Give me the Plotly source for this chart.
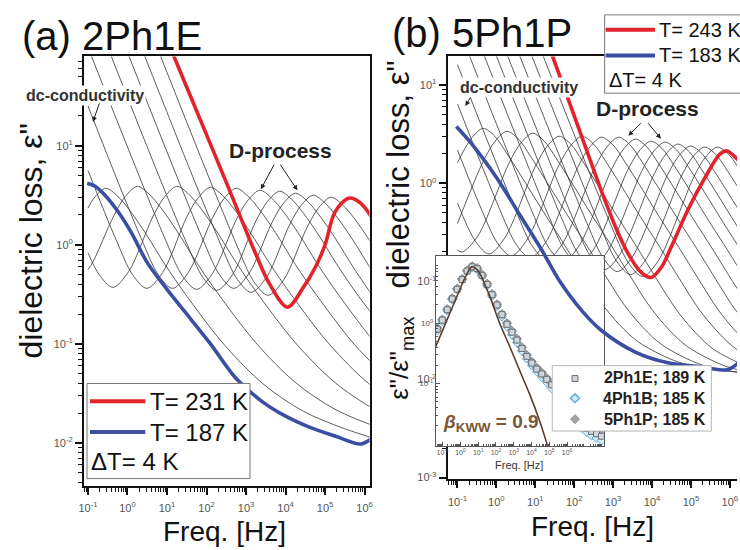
import plotly.graph_objects as go

W, H = 740, 550
FONT = "Liberation Sans, Arial, Helvetica, sans-serif"


def px(x):
    return x / W


def py(y):
    return 1 - y / H


# ---------------------------------------------------------------------------
# DATA  (pairs: log10 frequency [Hz], log10 eps'')
# ---------------------------------------------------------------------------
# panel (a) 2Ph1E, T = 187 ... 231 K, dT = 4 K
A_BLUE_187K = [(-1.02, 0.62), (-0.82, 0.59), (-0.57, 0.5), (-0.25, 0.34), (0.1, 0.12),
               (0.5, -0.18), (1.0, -0.45), (1.6, -0.75), (2.1, -1.0), (2.75, -1.35),
               (3.4, -1.58), (4.0, -1.73), (4.6, -1.84), (5.25, -1.93), (5.9, -2.01), (6.2, -1.95)]
A_RED_231K = [(0.8, 2.26), (1.5, 1.59), (2.5, 0.63), (3.2, -0.05), (3.6, -0.4), (4.05, -0.63),
              (4.45, -0.43), (4.75, -0.23), (5.0, 0.0), (5.25, 0.33), (5.6, 0.47), (5.9, 0.42), (6.3, 0.2)]
A_191K = [(-1.0, 0.37), (-0.85, 0.47), (-0.55, 0.57), (-0.25, 0.49), (0.05, 0.35), (0.45, 0.12),
          (0.95, -0.2), (1.45, -0.49), (2.45, -1.01), (3.45, -1.41), (4.45, -1.68), (5.45, -1.85), (6.45, -1.98)]
A_195K = [(-1.0, -0.25), (-0.87, -0.17), (-0.35, 0.29), (-0.05, 0.49), (0.25, 0.59), (0.55, 0.51),
          (0.85, 0.37), (1.25, 0.14), (1.75, -0.18), (2.25, -0.47), (3.25, -0.99), (4.25, -1.39),
          (5.25, -1.66), (6.25, -1.83), (7.25, -1.96)]
A_199K = [(-1.0, -0.08), (-0.72, -0.3), (-0.37, -0.43), (0.03, -0.27), (0.65, 0.29), (0.95, 0.49),
          (1.25, 0.59), (1.55, 0.51), (1.85, 0.37), (2.25, 0.14), (2.75, -0.18), (3.25, -0.47),
          (4.25, -0.99), (5.25, -1.39), (6.25, -1.66), (7.25, -1.83)]
A_203K = [(-1.0, 0.75), (-0.31, 0.07), (0.14, -0.31), (0.49, -0.44), (0.89, -0.28), (1.5, 0.28),
          (1.8, 0.48), (2.1, 0.58), (2.4, 0.5), (2.7, 0.36), (3.1, 0.13), (3.6, -0.19), (4.1, -0.48),
          (5.1, -1.0), (6.1, -1.4), (7.1, -1.67)]
A_207K = [(-1.0, 1.4), (0.34, 0.07), (0.79, -0.31), (1.14, -0.44), (1.54, -0.28), (2.15, 0.27),
          (2.45, 0.47), (2.75, 0.57), (3.05, 0.49), (3.35, 0.35), (3.75, 0.12), (4.25, -0.2),
          (4.75, -0.49), (5.75, -1.01), (6.75, -1.41)]
A_211K = [(-1.75, 2.75), (0.95, 0.06), (1.4, -0.32), (1.75, -0.45), (2.15, -0.29), (2.75, 0.25),
          (3.05, 0.45), (3.35, 0.55), (3.65, 0.47), (3.95, 0.33), (4.35, 0.1), (4.85, -0.22),
          (5.35, -0.51), (6.35, -1.03), (7.35, -1.43)]
A_215K = [(-1.24, 2.74), (1.46, 0.05), (1.91, -0.33), (2.26, -0.46), (2.66, -0.3), (3.25, 0.24),
          (3.55, 0.44), (3.85, 0.54), (4.15, 0.46), (4.45, 0.32), (4.85, 0.09), (5.35, -0.23),
          (5.85, -0.52), (6.85, -1.04)]
A_219K = [(-0.81, 2.76), (1.89, 0.07), (2.34, -0.31), (2.69, -0.44), (3.09, -0.28), (3.65, 0.22),
          (3.95, 0.42), (4.25, 0.52), (4.55, 0.44), (4.85, 0.3), (5.25, 0.07), (5.75, -0.25),
          (6.25, -0.54), (7.25, -1.06)]
A_223K = [(-0.37, 2.72), (2.33, 0.03), (2.78, -0.35), (3.13, -0.48), (3.53, -0.32), (4.1, 0.2),
          (4.4, 0.4), (4.7, 0.5), (5.0, 0.42), (5.3, 0.28), (5.7, 0.05), (6.2, -0.27), (6.7, -0.56)]
A_227K = [(0.06, 2.69), (2.76, 0.0), (3.21, -0.38), (3.56, -0.51), (3.96, -0.35), (4.55, 0.18),
          (4.85, 0.38), (5.15, 0.48), (5.45, 0.4), (5.75, 0.26), (6.15, 0.03), (6.65, -0.29)]
A_BLACK = [A_191K, A_195K, A_199K, A_203K, A_207K, A_211K, A_215K, A_219K, A_223K, A_227K]

# panel (b) 5Ph1P, T = 183 ... 243 K, dT = 4 K
B_BLUE_183K = [(-1.03, 0.58), (-0.67, 0.42), (0.02, 0.05), (0.6, -0.32), (1.18, -0.69), (1.6, -0.98),
               (2.2, -1.3), (2.7, -1.5), (3.57, -1.72), (4.41, -1.83), (5.24, -1.87), (5.93, -1.9), (6.25, -1.82)]
B_RED_243K = [(1.0, 1.78), (1.44, 1.3), (1.87, 0.83), (2.3, 0.36), (2.71, -0.09), (3.1, -0.48),
              (3.39, -0.72), (3.7, -0.9), (3.97, -0.96), (4.25, -0.85), (4.48, -0.66), (4.91, -0.28),
              (5.35, 0.05), (5.75, 0.3), (5.93, 0.33), (6.18, 0.25), (6.4, 0.15)]
B_187K = [(-1.0, 0.21), (-0.64, 0.46), (-0.34, 0.56), (-0.04, 0.48), (0.26, 0.31), (0.66, 0.06),
          (1.16, -0.26), (1.66, -0.57), (2.16, -0.89), (2.66, -1.2), (3.16, -1.44), (3.66, -1.62),
          (4.66, -1.82), (5.66, -1.9), (6.66, -1.94)]
B_191K = [(-1.0, -0.41), (-0.33, 0.23), (-0.03, 0.43), (0.27, 0.53), (0.57, 0.45), (0.87, 0.28),
          (1.27, 0.03), (1.77, -0.29), (2.27, -0.6), (2.77, -0.92), (3.27, -1.23), (3.77, -1.47),
          (4.27, -1.65), (5.27, -1.85), (6.27, -1.93), (7.27, -1.97)]
B_195K = [(-1.0, -0.68), (-0.88, -0.7), (-0.48, -0.54), (0.33, 0.21), (0.63, 0.41), (0.93, 0.51),
          (1.23, 0.43), (1.53, 0.26), (1.93, 0.01), (2.43, -0.31), (2.93, -0.62), (3.43, -0.94),
          (3.93, -1.25), (4.43, -1.49), (4.93, -1.67), (5.93, -1.87), (6.93, -1.95)]
B_199K = [(-1.0, -0.2), (-0.54, -0.59), (-0.19, -0.72), (0.21, -0.56), (1.01, 0.18), (1.31, 0.38),
          (1.61, 0.48), (1.91, 0.4), (2.21, 0.23), (2.61, -0.02), (3.11, -0.34), (3.61, -0.65),
          (4.11, -0.97), (4.61, -1.28), (5.11, -1.52), (5.61, -1.7), (6.61, -1.9)]
B_203K = [(-1.0, 0.34), (-0.42, -0.23), (0.03, -0.61), (0.38, -0.74), (0.78, -0.58), (1.6, 0.18),
          (1.9, 0.38), (2.2, 0.48), (2.5, 0.4), (2.8, 0.23), (3.2, -0.02), (3.7, -0.34), (4.2, -0.65),
          (4.7, -0.97), (5.2, -1.28), (5.7, -1.52), (6.2, -1.7), (7.2, -1.9)]
B_207K = [(-1.0, 0.81), (0.07, -0.25), (0.52, -0.63), (0.87, -0.76), (1.27, -0.6), (2.1, 0.17),
          (2.4, 0.37), (2.7, 0.47), (3.0, 0.39), (3.3, 0.22), (3.7, -0.03), (4.2, -0.35), (4.7, -0.66),
          (5.2, -0.98), (5.7, -1.29), (6.2, -1.53), (6.7, -1.71)]
B_211K = [(-1.0, 1.21), (0.49, -0.27), (0.94, -0.65), (1.29, -0.78), (1.69, -0.62), (2.54, 0.17),
          (2.84, 0.37), (3.14, 0.47), (3.44, 0.39), (3.74, 0.22), (4.14, -0.03), (4.64, -0.35),
          (5.14, -0.66), (5.64, -0.98), (6.14, -1.29), (6.64, -1.53)]
B_215K = [(-1.78, 2.4), (0.92, -0.29), (1.37, -0.67), (1.72, -0.8), (2.12, -0.64), (2.97, 0.15),
          (3.27, 0.35), (3.57, 0.45), (3.87, 0.37), (4.17, 0.2), (4.57, -0.05), (5.07, -0.37),
          (5.57, -0.68), (6.07, -1.0), (6.57, -1.31)]
B_219K = [(-1.38, 2.38), (1.32, -0.31), (1.77, -0.69), (2.12, -0.82), (2.52, -0.66), (3.37, 0.13),
          (3.67, 0.33), (3.97, 0.43), (4.27, 0.35), (4.57, 0.18), (4.97, -0.07), (5.47, -0.39),
          (5.97, -0.7), (6.47, -1.02)]
B_223K = [(-1.04, 2.35), (1.66, -0.34), (2.11, -0.72), (2.46, -0.85), (2.86, -0.69), (3.73, 0.12),
          (4.03, 0.32), (4.33, 0.42), (4.63, 0.34), (4.93, 0.17), (5.33, -0.08), (5.83, -0.4), (6.33, -0.71)]
B_227K = [(-0.72, 2.32), (1.98, -0.37), (2.43, -0.75), (2.78, -0.88), (3.18, -0.72), (4.06, 0.1),
          (4.36, 0.3), (4.66, 0.4), (4.96, 0.32), (5.26, 0.15), (5.66, -0.1), (6.16, -0.42), (6.66, -0.73)]
B_231K = [(-0.39, 2.3), (2.31, -0.39), (2.76, -0.77), (3.11, -0.9), (3.51, -0.74), (4.39, 0.08),
          (4.69, 0.28), (4.99, 0.38), (5.29, 0.3), (5.59, 0.13), (5.99, -0.12), (6.49, -0.44)]
B_235K = [(-0.05, 2.27), (2.65, -0.42), (3.1, -0.8), (3.45, -0.93), (3.85, -0.77), (4.75, 0.07),
          (5.05, 0.27), (5.35, 0.37), (5.65, 0.29), (5.95, 0.12), (6.35, -0.13)]
B_239K = [(0.26, 2.25), (2.96, -0.44), (3.41, -0.82), (3.76, -0.95), (4.16, -0.79), (5.08, 0.07),
          (5.38, 0.27), (5.68, 0.37), (5.98, 0.29), (6.28, 0.12), (6.68, -0.13)]
B_BLACK = [B_187K, B_191K, B_195K, B_199K, B_203K, B_207K, B_211K, B_215K,
           B_219K, B_223K, B_227K, B_231K, B_235K, B_239K]

# inset: normalised loss (log10 values on the inset axes)
INSET_LOGF = [-1.3, -1.02, -0.74, -0.46, -0.18, 0.1, 0.38, 0.66, 0.94, 1.22, 1.5, 1.78, 2.06, 2.34,
              2.62, 2.9, 3.18, 3.46, 3.74, 4.02, 4.3, 4.58, 4.86, 5.14, 5.42, 5.7, 5.98, 6.26, 6.54,
              6.82, 7.1, 7.38, 7.66, 7.94]
INSET_2PH1E = [-0.1, 0.05, 0.22, 0.4, 0.56, 0.72, 0.86, 0.93, 0.9, 0.79, 0.64, 0.47, 0.3, 0.14, -0.02,
               -0.15, -0.28, -0.42, -0.55, -0.66, -0.76, -0.84, -0.93, -1.02, -1.1, -1.22, -1.35, -1.47,
               -1.59, -1.67, -1.74, -1.79, -1.83, -1.87]
INSET_4PH1B = [-0.12, 0.03, 0.21, 0.39, 0.56, 0.72, 0.86, 0.93, 0.89, 0.78, 0.62, 0.45, 0.28, 0.11, -0.05,
               -0.19, -0.32, -0.46, -0.59, -0.7, -0.8, -0.89, -0.98, -1.08, -1.17, -1.29, -1.42, -1.54,
               -1.65, -1.73, -1.8, -1.86, -1.9, -1.94]
INSET_5PH1P = [-0.08, 0.06, 0.23, 0.41, 0.57, 0.73, 0.87, 0.94, 0.91, 0.8, 0.65, 0.48, 0.31, 0.15, 0.0,
               -0.13, -0.26, -0.4, -0.53, -0.64, -0.74, -0.82, -0.91, -1.0, -1.08, -1.2, -1.33, -1.45,
               -1.57, -1.65, -1.72, -1.77, -1.81, -1.85]
KWW_LOGF = [-1.39, -0.93, -0.37, 0.18, 0.45, 0.65, 0.88, 1.11, 1.67, 2.22, 2.78, 3.33, 3.89, 4.44, 4.91, 5.2]
KWW_LOGE = [-0.39, -0.07, 0.32, 0.7, 0.86, 0.93, 0.9, 0.81, 0.43, -0.01, -0.39, -0.78, -1.17, -1.6, -2.03, -2.3]

INSET_NAMES = ["2Ph1E; 189 K", "4Ph1B; 185 K", "5Ph1P; 185 K"]

# tick decades
X_DECADES = [-1, 0, 1, 2, 3, 4, 5, 6]
YA_DECADES = [-2, -1, 0, 1]
YB_DECADES = [-3, -2, -1, 0, 1]
YI_DECADES = [-1, 0]

# ---------------------------------------------------------------------------
RED = "#e3232b"
BLUE = "#3a4fa3"
THIN = "#333333"
SQ_FILL, SQ_EDGE = "#cdd5dd", "#6a6f75"
D1_FILL, D1_EDGE = "#d4edf8", "#5eb0dc"
D2_FILL, D2_EDGE = "#a3a3a3", "#8a8a8a"

fig = go.Figure()


def curve(pts, xa, ya, color, width):
    fig.add_trace(go.Scatter(
        x=[10 ** f for f, e in pts], y=[10 ** e for f, e in pts], mode="lines",
        line=dict(color=color, width=width, shape="spline", smoothing=0.9),
        xaxis=xa, yaxis=ya, showlegend=False, hoverinfo="skip"))


for c in A_BLACK:
    curve(c, "x", "y", THIN, 0.8)
curve(A_BLUE_187K, "x", "y", BLUE, 3.6)
curve(A_RED_231K, "x", "y", RED, 3.6)

for c in B_BLACK:
    curve(c, "x2", "y2", THIN, 0.8)
curve(B_RED_243K, "x2", "y2", RED, 3.6)

# inset data
series = [(INSET_NAMES[1], INSET_4PH1B, "diamond", 7, D1_FILL, D1_EDGE),
          (INSET_NAMES[2], INSET_5PH1P, "diamond", 7, D2_FILL, D2_EDGE),
          (INSET_NAMES[0], INSET_2PH1E, "square", 6, SQ_FILL, SQ_EDGE)]
for name, vals, sym, size, fill, edge in series:
    fig.add_trace(go.Scatter(
        x=[10 ** f for f in INSET_LOGF], y=[10 ** v for v in vals], mode="markers", name=name,
        marker=dict(symbol=sym, size=size, color=fill, line=dict(color=edge, width=1)),
        xaxis="x3", yaxis="y3", showlegend=False, hoverinfo="skip"))
fig.add_trace(go.Scatter(
    x=[10 ** f for f in KWW_LOGF], y=[10 ** e for e in KWW_LOGE], mode="lines",
    line=dict(color="#5a3e2c", width=1.6, shape="spline", smoothing=0.8),
    xaxis="x3", yaxis="y3", showlegend=False, hoverinfo="skip"))

# blue curve of panel (b) is drawn over the inset
curve(B_BLUE_183K, "x4", "y4", BLUE, 3.6)


# ---------------------------------------------------------------------------
def dec_ticks(decs):
    return dict(tickvals=[10.0 ** d for d in decs],
                ticktext=["10<sup>%d</sup>" % d for d in decs])


MINOR_VALS = [m * 10.0 ** k for k in range(-4, 9) for m in range(2, 10)]
tickfont = dict(family=FONT, size=11, color="#555")
minor = dict(ticks="outside", ticklen=4, tickwidth=1, tickcolor="#111", tickvals=MINOR_VALS, showgrid=False)


def main_axis(decs, **kw):
    d = dict(type="log", showline=True, linecolor="#111", linewidth=2, ticks="outside", ticklen=7,
             tickwidth=1.6, tickcolor="#111", showgrid=False, zeroline=False,
             tickfont=tickfont, minor=minor)
    d.update(dec_ticks(decs))
    d.update(kw)
    return d


inset_minor = dict(ticks="inside", ticklen=2, tickwidth=0.8, tickcolor="#555", tickvals=MINOR_VALS,
                   showgrid=False)


def inset_axis(decs, size, **kw):
    d = dict(type="log", showline=True, linecolor="#555", linewidth=1, mirror=True, ticks="inside",
             ticklen=4, tickwidth=1, tickcolor="#555", showgrid=False, zeroline=False,
             tickfont=dict(family=FONT, size=size, color="#555"), minor=inset_minor)
    d.update(dec_ticks(decs))
    d.update(kw)
    return d


fig.update_layout(
    width=W, height=H, margin=dict(l=0, r=0, t=0, b=0),
    paper_bgcolor="white", plot_bgcolor="rgba(0,0,0,0)",
    font=dict(family=FONT, color="#111"),
    xaxis=main_axis(X_DECADES, domain=[px(79), px(368)], range=[-1.1, 6.125], anchor="y", mirror=True,
                    ticklabelstandoff=4),
    yaxis=main_axis(YA_DECADES, domain=[py(490), py(57)], range=[-2.43, 1.9], anchor="x", mirror=True),
    xaxis2=main_axis(X_DECADES, domain=[px(447), 1.0], range=[-1.254, 6.183], anchor="y2", mirror=True,
                     ticklabelstandoff=5),
    yaxis2=main_axis(YB_DECADES, domain=[py(483), py(57)], range=[-3.01, 1.293], anchor="x2", mirror=False),
    xaxis3=inset_axis(X_DECADES, 7, domain=[px(435), px(605)], range=[-1.39, 8.06], anchor="y3"),
    yaxis3=inset_axis(YI_DECADES, 8, domain=[py(450), py(258)], range=[-2.03, 1.115], anchor="x3"),
    xaxis4=dict(type="log", domain=[px(447), 1.0], range=[-1.254, 6.183], anchor="y4", visible=False),
    yaxis4=dict(type="log", domain=[py(483), py(57)], range=[-3.01, 1.293], anchor="x4", visible=False),
    showlegend=False,
)


def diamond(cx, cy, r):
    return "M %f,%f L %f,%f L %f,%f L %f,%f Z" % (
        px(cx), py(cy - r), px(cx + r), py(cy), px(cx), py(cy + r), px(cx - r), py(cy))


shapes = [
    # white background of the inset (clipped to the inset plot area)
    dict(type="rect", xref="x3", yref="y3", x0=1e-4, x1=1e10, y0=1e-4, y1=1e3,
         fillcolor="white", line=dict(width=0), layer="below"),
    # legend (a)
    dict(type="rect", xref="paper", yref="paper", x0=px(82), x1=px(247), y0=py(483), y1=py(387),
         fillcolor="white", line=dict(color="#777", width=1), layer="above"),
    dict(type="line", xref="paper", yref="paper", x0=px(85), x1=px(141), y0=py(405), y1=py(405),
         line=dict(color=RED, width=4), layer="above"),
    dict(type="line", xref="paper", yref="paper", x0=px(85), x1=px(141), y0=py(436), y1=py(436),
         line=dict(color=BLUE, width=4), layer="above"),
    # legend (b)
    dict(type="rect", xref="paper", yref="paper", x0=px(606), x1=px(745), y0=py(94), y1=py(15),
         fillcolor="white", line=dict(color="#777", width=1), layer="above"),
    dict(type="line", xref="paper", yref="paper", x0=px(607), x1=px(657), y0=py(30), y1=py(30),
         line=dict(color=RED, width=4), layer="above"),
    dict(type="line", xref="paper", yref="paper", x0=px(607), x1=px(657), y0=py(56), y1=py(56),
         line=dict(color=BLUE, width=4), layer="above"),
    # legend of the inset
    dict(type="rect", xref="paper", yref="paper", x0=px(553), x1=px(714), y0=py(435), y1=py(369),
         fillcolor="white", line=dict(color="#b5b5b5", width=1), layer="above"),
    dict(type="rect", xref="paper", yref="paper", x0=px(573), x1=px(579), y0=py(385), y1=py(379),
         fillcolor=SQ_FILL, line=dict(color=SQ_EDGE, width=1), layer="above"),
    dict(type="path", xref="paper", yref="paper", path=diamond(576, 402, 4.5),
         fillcolor=D1_FILL, line=dict(color=D1_EDGE, width=1.5), layer="above"),
    dict(type="path", xref="paper", yref="paper", path=diamond(576, 423, 4.5),
         fillcolor=D2_FILL, line=dict(color=D2_EDGE, width=1), layer="above"),
]
fig.update_layout(shapes=shapes)


def text(x, y, s, size, color="#111", bold=False, angle=0, anchor="center", bg=None):
    a = dict(x=px(x), y=py(y), xref="paper", yref="paper", text=("<b>%s</b>" % s) if bold else s,
             showarrow=False, xanchor=anchor, yanchor="middle", textangle=angle,
             font=dict(family=FONT, size=size, color=color))
    if bg:
        a.update(bgcolor=bg, borderpad=1)
    return a


def arrow(hx, hy, tx, ty):
    return dict(x=px(hx), y=py(hy), xref="paper", yref="paper", text="", showarrow=True,
                ax=tx - hx, ay=ty - hy, arrowhead=2, arrowsize=1, arrowwidth=1,
                arrowcolor="#222", standoff=0, startstandoff=0)


inset_legend = text(711, 402, "<br>".join(INSET_NAMES), 16, color="#222", bold=True, anchor="right")
inset_legend["align"] = "right"

annotations = [
    text(107, 36, "(a) 2Ph1E", 40),
    text(482, 33, "(b) 5Ph1P", 40),
    text(25, 243, 'dielectric loss, ε"', 32, angle=-90),
    text(397, 176, 'dielectric loss, ε"', 31, angle=-90),
    text(400, 362, 'ε"/ε"<sub>max</sub>', 26, angle=-90),
    text(221, 536, "Freq. [Hz]", 28),
    text(594, 531, "Freq. [Hz]", 28),
    text(519, 469, "Freq. [Hz]", 11, color="#333"),
    text(80, 96, "dc-conductivity", 16, color="#333", bold=True, bg="white"),
    text(519, 88, "dc-conductivity", 16, color="#333", bold=True, bg="white"),
    text(278, 152, "D-process", 21, color="#222", bold=True),
    text(649, 110, "D-process", 21, color="#222", bold=True),
    text(440, 427, "<b><i>β</i><sub>KWW</sub> = 0.9</b>", 19, color="#7b5534", anchor="left"),
    text(144, 405, "T= 231 K", 24, anchor="left"),
    text(144, 436, "T= 187 K", 24, anchor="left"),
    text(84, 466, "ΔT= 4 K", 24, anchor="left"),
    text(659, 30, "T= 243 K", 20, anchor="left"),
    text(659, 56, "T= 183 K", 20, anchor="left"),
    text(608, 81, "ΔT= 4 K", 20, anchor="left"),
    inset_legend,
    arrow(88, 123, 95, 103),
    arrow(465, 107, 471, 97),
    arrow(258, 191, 272, 165),
    arrow(295, 192, 277, 165),
    arrow(630, 137, 644, 123),
    arrow(663, 140, 649, 123),
]
fig.update_layout(annotations=annotations)

fig.write_html("out.html")
